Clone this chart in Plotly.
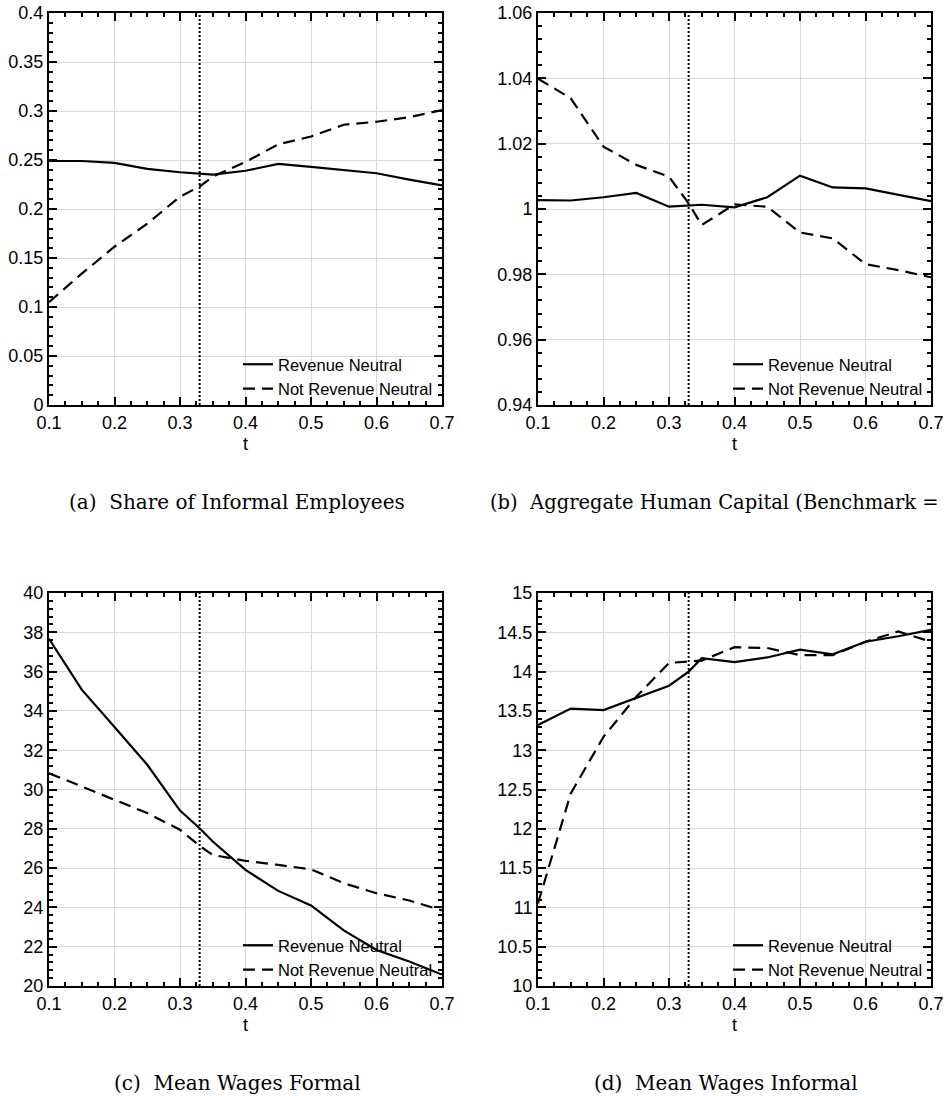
import plotly.graph_objects as go

# ---------------- data ----------------
t_values = [0.1, 0.15, 0.2, 0.25, 0.3, 0.33, 0.35, 0.4, 0.45, 0.5, 0.55, 0.6, 0.65, 0.7]

share_rn = [0.249, 0.249, 0.247, 0.241, 0.2375, 0.236, 0.235, 0.239, 0.246, 0.243, 0.240, 0.2365, 0.230, 0.224]
share_nrn = [0.105, 0.134, 0.1615, 0.185, 0.2126, 0.223, 0.233, 0.248, 0.266, 0.274, 0.286, 0.289, 0.2937, 0.301]

hc_rn = [1.0027, 1.0026, 1.0036, 1.0049, 1.0007, 1.0011, 1.0013, 1.0005, 1.0036, 1.0102, 1.0066, 1.0063, 1.0043, 1.0024]
hc_nrn = [1.0399, 1.0339, 1.0191, 1.0135, 1.0099, 1.0017, 0.9951, 1.0014, 1.0007, 0.9928, 0.9910, 0.9831, 0.9813, 0.9791]

wf_rn = [37.67, 35.08, 33.18, 31.26, 28.93, 28.03, 27.35, 25.91, 24.84, 24.10, 22.83, 21.83, 21.25, 20.58]
wf_nrn = [30.83, 30.15, 29.50, 28.80, 27.95, 27.13, 26.67, 26.37, 26.16, 25.94, 25.23, 24.72, 24.35, 23.85]

wi_rn = [13.32, 13.53, 13.51, 13.66, 13.82, 14.00, 14.17, 14.12, 14.18, 14.28, 14.22, 14.38, 14.45, 14.53]
wi_nrn = [11.05, 12.45, 13.17, 13.68, 14.11, 14.13, 14.14, 14.31, 14.30, 14.21, 14.21, 14.38, 14.51, 14.38]

series_names = ["Revenue Neutral", "Not Revenue Neutral"]
benchmark_t = 0.33
x_title = "t"
captions = [
    "(a)\u00a0 Share of Informal Employees",
    "(b)\u00a0 Aggregate Human Capital (Benchmark =",
    "(c)\u00a0 Mean Wages Formal",
    "(d)\u00a0 Mean Wages Informal",
]

y_ranges = [[0, 0.4], [0.94, 1.06], [20, 40], [10, 15]]
y_dticks = [0.05, 0.02, 2, 0.5]
y_minor = [0.01, 0.004, 0.4, 0.1]
panel_series = [(share_rn, share_nrn), (hc_rn, hc_nrn), (wf_rn, wf_nrn), (wi_rn, wi_nrn)]

# ---------------- layout geometry ----------------
W, H = 944, 1096
x_doms = [[49 / W, 442 / W], [538 / W, 931 / W]]
y_doms = [[1 - 405 / H, 1 - 13 / H], [1 - 986 / H, 1 - 593 / H]]

TICK_FONT = dict(family="Liberation Sans, Arial, sans-serif", size=18, color="black")
LEG_FONT = dict(family="Liberation Sans, Arial, sans-serif", size=16.5, color="black")
CAP_FONT = dict(family="DejaVu Serif, serif", size=20, color="black")

fig = go.Figure()
layout = dict(
    width=W, height=H, autosize=False,
    margin=dict(l=0, r=0, t=0, b=0, pad=0, autoexpand=False),
    paper_bgcolor="white", plot_bgcolor="white",
    showlegend=True,
    shapes=[], annotations=[],
)

for i in range(4):
    row, col = divmod(i, 2)
    n = i + 1
    xa = "x" if n == 1 else f"x{n}"
    ya = "y" if n == 1 else f"y{n}"
    xkey = "xaxis" if n == 1 else f"xaxis{n}"
    ykey = "yaxis" if n == 1 else f"yaxis{n}"
    leg = "legend" if n == 1 else f"legend{n}"

    rn, nrn = panel_series[i]
    fig.add_trace(go.Scatter(x=t_values, y=rn, mode="lines", name=series_names[0],
                             line=dict(color="black", width=2.2), xaxis=xa, yaxis=ya,
                             legend=leg, showlegend=True))
    fig.add_trace(go.Scatter(x=t_values, y=nrn, mode="lines", name=series_names[1],
                             line=dict(color="black", width=2.2, dash="12px,7px"), xaxis=xa, yaxis=ya,
                             legend=leg, showlegend=True))

    common = dict(
        showline=True, linecolor="black", linewidth=2, mirror="allticks",
        ticks="inside", ticklen=8, tickwidth=2, tickcolor="black",
        showgrid=True, gridcolor="#d9d9d9", gridwidth=1,
        zeroline=False, tickfont=TICK_FONT, automargin=False,
    )
    layout[xkey] = dict(
        common, domain=x_doms[col], anchor=ya, range=[0.1, 0.7], tick0=0.1, dtick=0.1,
        minor=dict(dtick=0.025, tick0=0.1, ticks="inside", ticklen=4, tickwidth=1.5,
                   tickcolor="black", showgrid=False),
        title=dict(text=x_title, font=TICK_FONT, standoff=6),
    )
    layout[ykey] = dict(
        common, domain=y_doms[row], anchor=xa, range=y_ranges[i], tick0=y_ranges[i][0],
        dtick=y_dticks[i],
        minor=dict(dtick=y_minor[i], tick0=y_ranges[i][0], ticks="inside", ticklen=4,
                   tickwidth=1.5, tickcolor="black", showgrid=False),
    )

    layout["shapes"].append(dict(type="line", xref=xa, yref=f"{ya} domain",
                                 x0=benchmark_t, x1=benchmark_t, y0=0, y1=1,
                                 line=dict(color="black", width=2, dash="2px,2px")))

    # legend placed in the lower right of each panel
    leg_left_px = [238, 728][col]
    leg_top_px = [347, 928][row]
    layout[leg] = dict(
        x=leg_left_px / W, y=1 - leg_top_px / H, xanchor="left", yanchor="top",
        xref="paper", yref="paper",
        bgcolor="rgba(0,0,0,0)", borderwidth=0, font=LEG_FONT,
        tracegroupgap=0, itemwidth=30,
    )

    if i == 1:
        cap = dict(x=941 / W, xanchor="right", size=19.5)
    elif i == 3:
        cap = dict(x=726 / W, xanchor="center", size=20)
    else:
        cap = dict(x=237 / W, xanchor="center", size=20)
    cap_y = [502, 1083][row]
    layout["annotations"].append(dict(
        text=captions[i], xref="paper", yref="paper",
        x=cap["x"], y=1 - cap_y / H,
        xanchor=cap["xanchor"], yanchor="middle",
        showarrow=False, font=dict(CAP_FONT, size=cap["size"]),
    ))

fig.update_layout(**layout)
fig.write_html("out.html", config={"displayModeBar": False},
               post_script="document.body.style.margin='0px';")
